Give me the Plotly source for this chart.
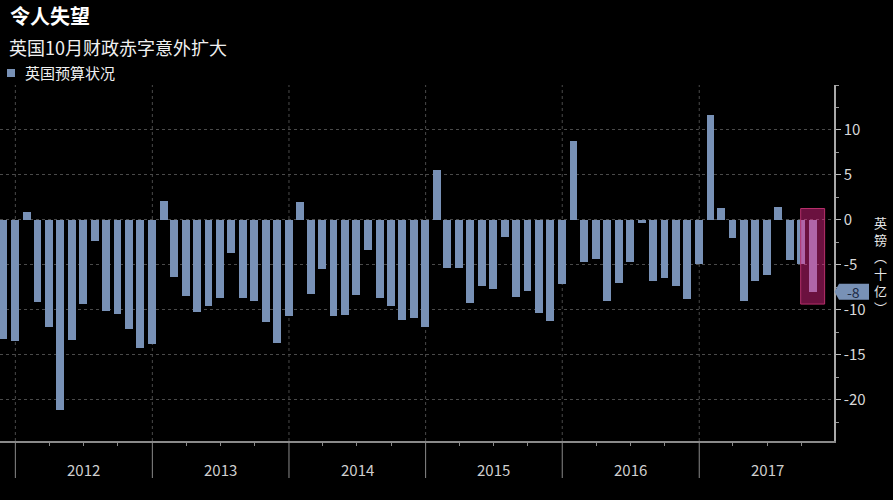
import plotly.graph_objects as go
import pandas as pd

# ---------------- data ----------------
months = pd.date_range("2011-11-30", periods=72, freq="ME")
budget = [
    -13.3, -13.5,
    0.9, -9.1, -11.9, -21.1, -13.4, -9.4, -2.4, -10.1, -10.5, -12.1, -14.3, -13.8,
    2.1, -6.4, -8.5, -10.2, -9.6, -8.7, -3.7, -8.7, -9.0, -11.4, -13.7, -10.7,
    2.0, -8.2, -5.5, -10.7, -10.6, -8.4, -3.4, -8.7, -9.6, -11.1, -10.9, -11.9,
    5.6, -5.4, -5.4, -9.3, -7.4, -7.7, -1.9, -8.6, -7.9, -10.4, -11.3, -7.1,
    8.8, -4.7, -4.4, -9.0, -7.0, -4.7, -0.3, -6.8, -6.5, -7.4, -8.8, -4.9,
    11.7, 1.3, -2.0, -9.0, -6.8, -6.1, 1.4, -4.5, -4.9, -8.0,
]
years = [2012, 2013, 2014, 2015, 2016, 2017]
y_ticks = [10, 5, 0, -5, -10, -15, -20]
title = "令人失望"
subtitle = "英国10月财政赤字意外扩大"
series_name = "英国预算状况"
axis_title_chars = ["英", "镑", "︵", "十", "亿", "︶"]
last_label = "-8"

# ---------------- style ----------------
BAR = "#7891b6"
FONT = "Noto Sans CJK SC"
PLOT_TOP, PLOT_BOTTOM, PLOT_RIGHT = 85, 441, 834
PH = PLOT_BOTTOM - PLOT_TOP


def py2paper(py):
    return (PLOT_BOTTOM - py) / PH


def px2paper(px):
    return px / PLOT_RIGHT


fig = go.Figure()
fig.add_trace(go.Bar(
    x=months, y=budget, name=series_name,
    marker=dict(color=BAR, line=dict(width=0)),
    width=21 * 86400000,
    showlegend=False,
))

shapes = []
annotations = []
for yr in years:
    d = f"{yr}-01-01"
    shapes.append(dict(type="line", xref="x", yref="paper", x0=d, x1=d, y0=0, y1=1,
                       line=dict(color="#4a4a4a", width=1, dash="dot"), layer="below"))
    shapes.append(dict(type="line", xref="x", yref="paper", x0=d, x1=d, y0=py2paper(478), y1=0,
                       line=dict(color="#8a8a8a", width=1), layer="above"))
    annotations.append(dict(x=f"{yr}-07-02", y=py2paper(469), xref="x", yref="paper",
                            text=str(yr), showarrow=False, xanchor="center", yanchor="middle",
                            font=dict(family=FONT, size=15, color="#cfcfcf")))

# highlight box for latest month
shapes.append(dict(type="rect", xref="x", yref="y", x0="2017-09-29", x1="2017-12-02",
                   y0=-9.37, y1=1.26, fillcolor="rgba(255,40,150,0.42)",
                   line=dict(color="#b8306c", width=1), layer="above"))

# tag for latest value
shapes.append(dict(type="path", xref="paper", yref="y",
                   path=f"M {px2paper(834.5)},{-8} L {px2paper(839)},{-7.12} L {px2paper(869)},{-7.12} "
                        f"L {px2paper(869)},{-8.88} L {px2paper(839)},{-8.88} Z",
                   fillcolor=BAR, line=dict(width=0), layer="above"))
annotations.append(dict(x=px2paper(853), y=-8, xref="paper", yref="y", text=last_label,
                        showarrow=False, xanchor="center", yanchor="middle", borderpad=0,
                        font=dict(family=FONT, size=14, color="#1b2a45")))

# vertical axis title (stacked characters)
annotations.append(dict(x=px2paper(880), y=py2paper(265), xref="paper", yref="paper",
                        text="<br>".join(axis_title_chars), showarrow=False,
                        xanchor="center", yanchor="middle", align="center",
                        font=dict(family=FONT, size=13, color="#e6e6e6")))

# title, subtitle, legend
annotations.append(dict(x=px2paper(8), y=py2paper(16), xref="paper", yref="paper",
                        text=f"<b>{title}</b>", showarrow=False, xanchor="left", yanchor="middle",
                        font=dict(family=FONT, size=20, color="#ffffff")))
annotations.append(dict(x=px2paper(7), y=py2paper(47), xref="paper", yref="paper",
                        text=subtitle, showarrow=False, xanchor="left", yanchor="middle",
                        font=dict(family=FONT, size=18, color="#f0f0f0")))
annotations.append(dict(x=px2paper(23), y=py2paper(72), xref="paper", yref="paper",
                        text=series_name, showarrow=False, xanchor="left", yanchor="middle",
                        font=dict(family=FONT, size=15, color="#f0f0f0")))
shapes.append(dict(type="rect", xref="paper", yref="paper",
                   x0=px2paper(7), x1=px2paper(15), y0=py2paper(77), y1=py2paper(69),
                   fillcolor=BAR, line=dict(width=0)))

fig.update_layout(
    width=893, height=500,
    margin=dict(l=0, r=893 - PLOT_RIGHT, t=PLOT_TOP, b=500 - PLOT_BOTTOM),
    paper_bgcolor="#000000", plot_bgcolor="#000000",
    font=dict(family=FONT, color="#dddddd"),
    bargap=0,
    shapes=shapes, annotations=annotations,
    xaxis=dict(
        type="date", range=["2011-11-21", "2017-12-27"],
        showgrid=False, zeroline=False,
        showline=True, linecolor="#8a8a8a", linewidth=1.5,
        tickmode="array",
        tickvals=[f"{y}-{m:02d}-01" for y in years for m in (4, 7, 10)],
        ticks="outside", ticklen=3, tickcolor="#8a8a8a", showticklabels=False,
    ),
    yaxis=dict(
        side="right", range=[-24.6, 15],
        tickmode="array", tickvals=y_ticks, ticktext=[str(v) for v in y_ticks],
        showgrid=True, gridcolor="#4a4a4a", griddash="dot", gridwidth=1,
        zeroline=False,
        showline=True, linecolor="#aaaaaa", linewidth=1.5,
        ticks="outside", ticklen=5, tickcolor="#bbbbbb",
        minor=dict(dtick=2.5, tick0=0, ticks="outside", ticklen=3, tickcolor="#999999", showgrid=False),
        tickfont=dict(family=FONT, size=15, color="#d8d8d8"),
    ),
)

fig.write_html("out.html")
